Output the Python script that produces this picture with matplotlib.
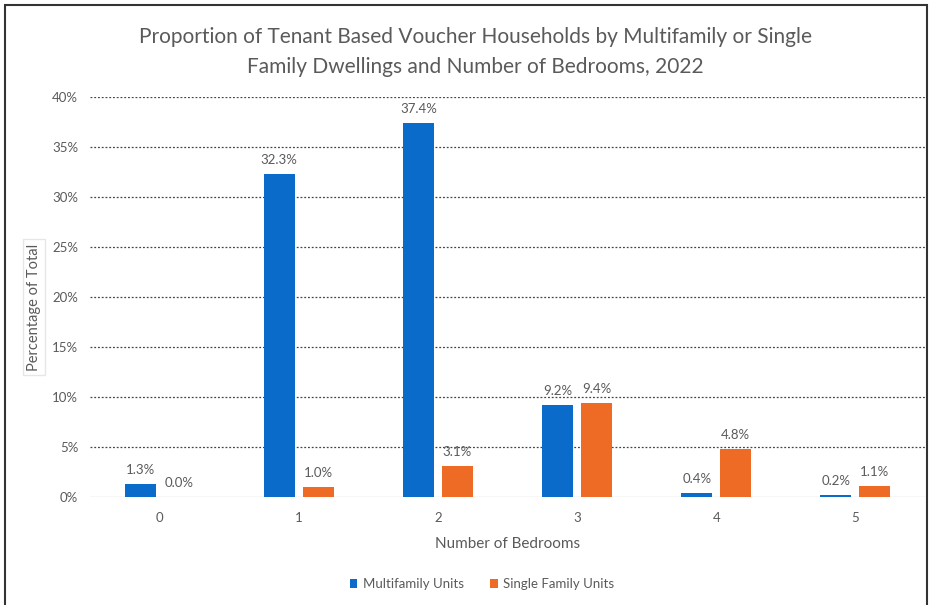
import matplotlib
matplotlib.use("Agg")
import matplotlib.pyplot as plt
from matplotlib.patches import Rectangle
import numpy as np

bedrooms = ["0", "1", "2", "3", "4", "5"]
multifamily = [1.3, 32.3, 37.4, 9.2, 0.4, 0.2]
single_family = [0.0, 1.0, 3.1, 9.4, 4.8, 1.1]
y_ticks = [0, 5, 10, 15, 20, 25, 30, 35, 40]

title = ("Proportion of Tenant Based Voucher Households by Multifamily or Single\n"
         "Family Dwellings and Number of Bedrooms, 2022")

BLUE = "#0A6BCB"
ORANGE = "#EE6B25"
TEXT = "#5A5A5A"

plt.rcParams["font.family"] = ["Lato", "DejaVu Sans"]

W, H = 930, 605
fig = plt.figure(figsize=(W / 100, H / 100), dpi=100)
ax = fig.add_axes([90 / W, (H - 497) / H, (925 - 90) / W, 400 / H])

x = np.arange(len(bedrooms))
bw = 0.223
off = 0.14
b1 = ax.bar(x - off, multifamily, bw, color=BLUE, label="Multifamily Units", zorder=3)
b2 = ax.bar(x + off, single_family, bw, color=ORANGE, label="Single Family Units", zorder=3)

for bars, vals in ((b1, multifamily), (b2, single_family)):
    for rect, v in zip(bars, vals):
        ax.annotate(f"{v:.1f}%", (rect.get_x() + rect.get_width() / 2, v),
                    xytext=(0, 6), textcoords="offset points",
                    ha="center", va="bottom", fontsize=9.5, color=TEXT)

ax.set_xlim(-0.5, len(bedrooms) - 0.5)
ax.set_ylim(0, 40)
ax.set_yticks(y_ticks)
ax.set_yticklabels([f"{t}%" for t in y_ticks])
ax.set_xticks(x)
ax.set_xticklabels(bedrooms)
ax.tick_params(axis="both", length=0, colors=TEXT, labelsize=9.5)
ax.tick_params(axis="y", pad=8.5)
ax.tick_params(axis="x", pad=11)

for t in y_ticks[1:]:
    ax.axhline(t, color="#444444", lw=0.9, ls=(0, (1.5, 1.5)), zorder=1)
ax.axhline(0, color="#D9D9D9", lw=1.0, zorder=2)

for s in ax.spines.values():
    s.set_visible(False)

ax.set_xlabel("Number of Bedrooms", color=TEXT, fontsize=11, labelpad=9)
ax.set_ylabel("Percentage of Total", color=TEXT, fontsize=10.5,
              bbox=dict(facecolor="white", edgecolor="#E6E6E6", pad=3))
ax.yaxis.set_label_coords(-0.059, 0.475)

fig.text(475 / W, 1 - 52 / H, title, ha="center", va="center",
         fontsize=15, color=TEXT, linespacing=1.6)

leg = fig.legend(handles=[b1, b2], loc="center", bbox_to_anchor=(482 / W, 1 - 584 / H),
                 ncol=2, frameon=False, fontsize=9.5, handlelength=0.6, handleheight=0.6,
                 columnspacing=2.0, handletextpad=0.4)
for t in leg.get_texts():
    t.set_color(TEXT)

fig.patches.append(Rectangle((5 / W, -0.05), (927 - 5) / W, 1 - 5 / H + 0.05,
                             transform=fig.transFigure, fill=False,
                             edgecolor="#333333", lw=1.5))

fig.savefig("out.png", dpi=100)
